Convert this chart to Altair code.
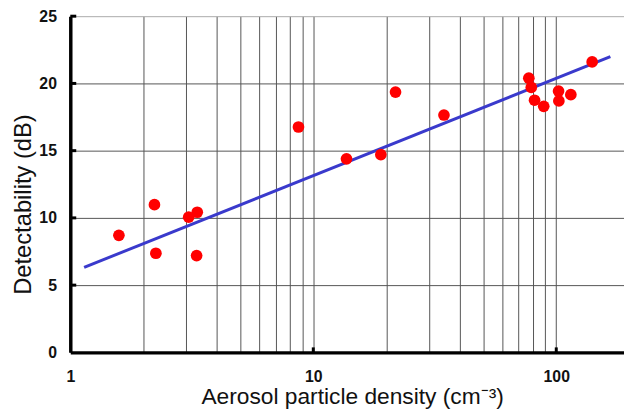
import altair as alt
import pandas as pd

# measured points
density = [1.585, 2.22, 2.25, 3.07, 3.33, 3.31, 8.69, 13.7, 18.97, 21.8, 34.5,
           77.1, 78.9, 81.4, 88.8, 102.2, 102.5, 114.8, 140.5]
detect = [8.70, 10.98, 7.37, 10.05, 10.42, 7.2, 16.76, 14.39, 14.7, 19.36, 17.65,
          20.39, 19.7, 18.75, 18.3, 19.43, 18.7, 19.16, 21.6]

# fitted line endpoints
fit_x = [1.14, 167.0]
fit_y = [6.32, 21.99]

x_grid = [1, 2, 3, 4, 5, 6, 7, 8, 9, 10, 20, 30, 40, 50, 60, 70, 80, 90, 100]
y_ticks = [0, 5, 10, 15, 20, 25]

# small inward tick marks
xt_pos = [10, 100]
yt_pos = [5, 10, 15, 20, 25]

pts = pd.DataFrame({"x": density, "y": detect})
fit = pd.DataFrame({"x": fit_x, "y": fit_y})
xt = pd.DataFrame({"x": xt_pos, "y0": [0] * len(xt_pos), "y1": [0.37] * len(xt_pos)})
yt = pd.DataFrame({"y": yt_pos, "x0": [1] * len(yt_pos), "x1": [1.058] * len(yt_pos)})

FONT = "Liberation Sans"
xscale = alt.Scale(type="log", domain=[1, 190], nice=False)
yscale = alt.Scale(domain=[0, 25], nice=False)

xaxis = alt.Axis(
    values=x_grid,
    labelExpr="(datum.value == 1 || datum.value == 10 || datum.value == 100) ? datum.label : ''",
    format="d",
    ticks=False,
    grid=True,
    gridColor="#555555",
    gridWidth=1,
    domainColor="black",
    domainWidth=3.5,
    labelFont=FONT,
    labelFontSize=16,
    labelFontWeight="bold",
    labelColor="#111111",
    labelPadding=16,
    labelFlush=False,
    labelOverlap=False,
    title="Aerosol particle density (cm⁻³)",
    titleFont=FONT,
    titleFontSize=23,
    titleFontWeight="normal",
    titleColor="#111111",
    titlePadding=2,
    titleX=285,
)
yaxis = alt.Axis(
    values=y_ticks,
    ticks=False,
    grid=True,
    gridColor={"condition": {"test": "datum.value == 25", "value": "#aaaaaa"}, "value": "#555555"},
    gridWidth=1,
    domainColor="black",
    domainWidth=3.5,
    labelFont=FONT,
    labelFontSize=16,
    labelFontWeight="bold",
    labelColor="#111111",
    labelPadding=14,
    labelFlush=False,
    title="Detectability (dB)",
    titleFont=FONT,
    titleFontSize=24,
    titleFontWeight="normal",
    titleColor="#111111",
    titlePadding=3,
    titleY=190,
)

base_pts = alt.Chart(pts).mark_circle(color="#ff0000", opacity=1, size=140).encode(
    x=alt.X("x:Q", scale=xscale, axis=xaxis),
    y=alt.Y("y:Q", scale=yscale, axis=yaxis),
)
line = alt.Chart(fit).mark_line(color="#3a3acc", strokeWidth=3).encode(
    x=alt.X("x:Q", scale=xscale),
    y=alt.Y("y:Q", scale=yscale),
)
xticks = alt.Chart(xt).mark_rule(color="black", strokeWidth=3).encode(
    x=alt.X("x:Q", scale=xscale),
    y=alt.Y("y0:Q", scale=yscale),
    y2="y1:Q",
)
yticks = alt.Chart(yt).mark_rule(color="black", strokeWidth=3).encode(
    y=alt.Y("y:Q", scale=yscale),
    x=alt.X("x0:Q", scale=xscale),
    x2="x1:Q",
)

chart = alt.layer(line, base_pts, xticks, yticks).properties(
    width=560,
    height=340,
    autosize=alt.AutoSizeParams(type="none"),
    padding={"left": 63, "top": 6, "right": 0, "bottom": 55},
).configure_view(strokeWidth=0)

chart.save("out.html", embed_options={"renderer": "svg", "actions": False})
